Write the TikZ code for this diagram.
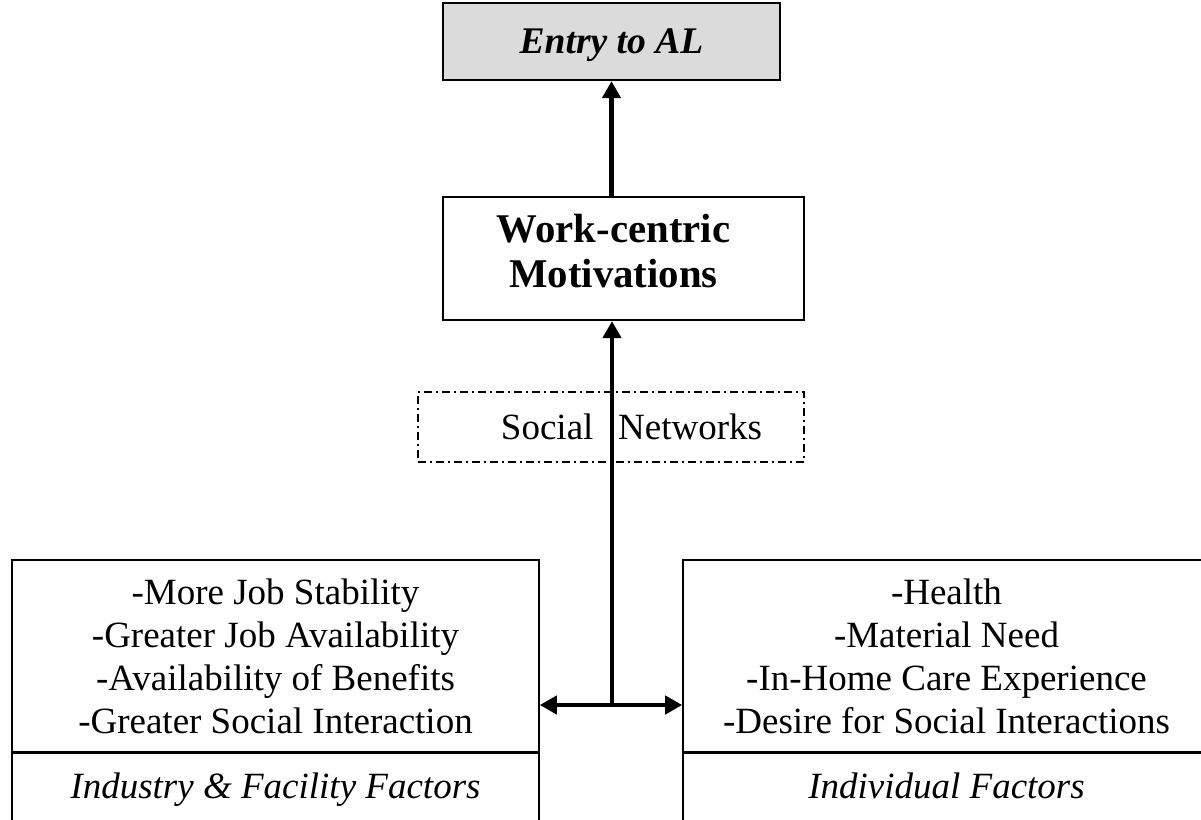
\documentclass[tikz,border=0pt]{standalone}
\usepackage{fontspec}
\setmainfont{Liberation Serif}
\usetikzlibrary{arrows.meta}
\tikzset{>={Triangle[length=8.5pt,width=9pt]}}
\definecolor{entryfill}{gray}{0.86}
\tikzset{
  topbox/.style={draw, line width=1.1pt, inner sep=0pt, align=center},
  factorbox/.style={draw, line width=0.8pt, minimum width=263.5pt, inner sep=0pt, align=center, font=\fontsize{18.5}{21.5}\selectfont},
  factorlabel/.style={factorbox, minimum height=36pt, anchor=north, text height=12pt, text depth=3.5pt, font=\fontsize{18.5}{21.5}\selectfont\itshape},
  flow/.style={line width=2.4pt},
}

\begin{document}
\begin{tikzpicture}[x=0.5pt,y=-0.5pt]
            \clip (0,0) rectangle (1201,820);
            \node[topbox, fill=entryfill, minimum width=168.5pt, minimum height=38.5pt, text depth=0pt, font=\fontsize{18.8}{22}\selectfont\bfseries\itshape] (entry) at (611.5,41.5) {Entry to AL};
            \node[topbox, minimum width=180.5pt, minimum height=61.5pt, text depth=8pt, font=\fontsize{20.4}{22.5}\selectfont\bfseries] (motiv) at (623.5,258.5) {Work-centric\hspace*{10pt}\\Motivations\hspace*{10pt}};
            \node[draw, line width=1pt, dash pattern=on 4pt off 2pt on 1pt off 2pt, minimum height=35pt, text width=151pt, inner xsep=21pt, inner ysep=0pt, align=right, font=\fontsize{18.5}{22}\selectfont] (social) at (611,427) {Social\ \ Networks};
            \node[factorbox, minimum height=96pt] (indlist) at (275.5,656) {-More Job Stability\\-Greater Job Availability\\-Availability of Benefits\\-Greater Social Interaction};
            \node[factorlabel] (indlabel) at (indlist.south) {Industry \& Facility Factors};
            \node[factorbox, minimum height=96pt] (indiv) at (946.5,656) {-Health\\-Material Need\\-In-Home Care Experience\\-Desire for Social Interactions};
            \node[factorlabel] (indivlabel) at (indiv.south) {Individual Factors};
            \coordinate (junc) at (612,705);
            \draw[flow, ->] (motiv.north -| entry.south) -- (entry.south);
            \draw[flow, ->] (junc) -- (motiv.south -| junc);
            \draw[flow, <->] (junc -| indlist.east) -- (junc -| indiv.west);
        \end{tikzpicture}
\end{document}
